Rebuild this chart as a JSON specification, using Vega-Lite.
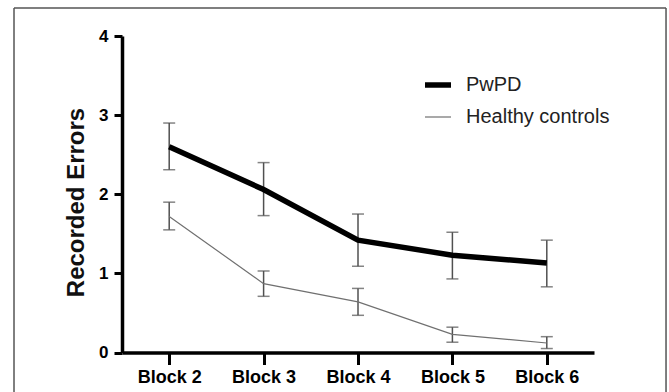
{
  "$schema": "https://vega.github.io/schema/vega-lite/v6.json",
  "width": 472,
  "height": 316.5,
  "autosize": {"type": "none"},
  "padding": {"left": 122, "top": 36, "right": 75, "bottom": 39.5},
  "background": "white",
  "config": {
    "view": {"stroke": null},
    "font": "Liberation Sans",
    "axis": {"grid": false, "domainColor": "#000", "tickColor": "#000", "labelColor": "#000", "titleColor": "#111"}
  },
  "data": {
    "values": [
      {"block": 2, "group": "PwPD", "mean": 2.60, "lo": 2.31, "hi": 2.90},
      {"block": 3, "group": "PwPD", "mean": 2.06, "lo": 1.73, "hi": 2.40},
      {"block": 4, "group": "PwPD", "mean": 1.42, "lo": 1.09, "hi": 1.75},
      {"block": 5, "group": "PwPD", "mean": 1.23, "lo": 0.93, "hi": 1.52},
      {"block": 6, "group": "PwPD", "mean": 1.13, "lo": 0.83, "hi": 1.42},
      {"block": 2, "group": "Healthy controls", "mean": 1.72, "lo": 1.55, "hi": 1.90},
      {"block": 3, "group": "Healthy controls", "mean": 0.87, "lo": 0.71, "hi": 1.03},
      {"block": 4, "group": "Healthy controls", "mean": 0.64, "lo": 0.47, "hi": 0.81},
      {"block": 5, "group": "Healthy controls", "mean": 0.23, "lo": 0.13, "hi": 0.32},
      {"block": 6, "group": "Healthy controls", "mean": 0.12, "lo": 0.05, "hi": 0.20}
    ]
  },
  "layer": [
    {
      "data": {"values": [{"f": 1}]},
      "mark": {"type": "rule", "stroke": "#555", "strokeWidth": 1.5, "clip": false},
      "encoding": {
        "x": {"datum": 0.356, "type": "quantitative"},
        "y": {"datum": 4.355, "type": "quantitative"},
        "y2": {"datum": -1}
      }
    },
    {
      "data": {"values": [{"f": 1}]},
      "mark": {"type": "rule", "stroke": "#555", "strokeWidth": 1.5, "clip": false},
      "encoding": {
        "x": {"datum": 7.263, "type": "quantitative"},
        "y": {"datum": 4.355, "type": "quantitative"},
        "y2": {"datum": -1}
      }
    },
    {
      "data": {"values": [{"f": 1}]},
      "mark": {"type": "rule", "stroke": "#555", "strokeWidth": 1.5, "clip": false},
      "encoding": {
        "x": {"datum": 0.356, "type": "quantitative"},
        "x2": {"datum": 7.263},
        "y": {"datum": 4.355, "type": "quantitative"}
      }
    },
    {
      "mark": {"type": "rule", "color": "#505050", "strokeWidth": 1.5},
      "encoding": {
        "x": {"field": "block", "type": "quantitative"},
        "y": {"field": "lo", "type": "quantitative"},
        "y2": {"field": "hi"}
      }
    },
    {
      "mark": {"type": "tick", "color": "#505050", "thickness": 1.5, "size": 12, "orient": "horizontal"},
      "encoding": {
        "x": {"field": "block", "type": "quantitative"},
        "y": {"field": "lo", "type": "quantitative"}
      }
    },
    {
      "mark": {"type": "tick", "color": "#505050", "thickness": 1.5, "size": 12, "orient": "horizontal"},
      "encoding": {
        "x": {"field": "block", "type": "quantitative"},
        "y": {"field": "hi", "type": "quantitative"}
      }
    },
    {
      "mark": {"type": "line", "strokeCap": "butt", "strokeJoin": "miter"},
      "encoding": {
        "x": {
          "field": "block", "type": "quantitative",
          "scale": {"domain": [1.5, 6.5], "nice": false, "zero": false},
          "axis": {
            "values": [2, 3, 4, 5, 6], "labelExpr": "'Block ' + datum.value", "title": null,
            "tickSize": 12, "tickWidth": 3, "domainWidth": 3.5,
            "labelFontSize": 18, "labelFontWeight": "bold", "labelPadding": 4, "labelFlush": false
          }
        },
        "y": {
          "field": "mean", "type": "quantitative",
          "scale": {"domain": [0, 4], "nice": false},
          "axis": {
            "values": [0, 1, 2, 3, 4], "format": "d", "title": "Recorded Errors",
            "titleFontSize": 24, "titleFontWeight": "bold", "titlePadding": 10, "titleY": 166,
            "tickSize": 8, "tickWidth": 3, "domainWidth": 3.5,
            "labelFontSize": 17, "labelFontWeight": "bold", "labelPadding": 6
          }
        },
        "color": {
          "field": "group", "type": "nominal",
          "scale": {"domain": ["PwPD", "Healthy controls"], "range": ["#000000", "#707070"]},
          "legend": {
            "orient": "none", "legendX": 300, "legendY": 33, "title": null,
            "symbolType": "stroke", "symbolSize": 676, "padding": 0,
            "labelFontSize": 20, "labelColor": "#222", "labelOffset": 12, "rowPadding": 7
          }
        },
        "strokeWidth": {
          "field": "group", "type": "nominal",
          "scale": {"type": "ordinal", "domain": ["PwPD", "Healthy controls"], "range": [5.5, 1.2]},
          "legend": {
            "orient": "none", "legendX": 300, "legendY": 33, "title": null,
            "symbolType": "stroke", "symbolSize": 676, "padding": 0,
            "labelFontSize": 20, "labelColor": "#222", "labelOffset": 12, "rowPadding": 7
          }
        }
      }
    }
  ]
}
